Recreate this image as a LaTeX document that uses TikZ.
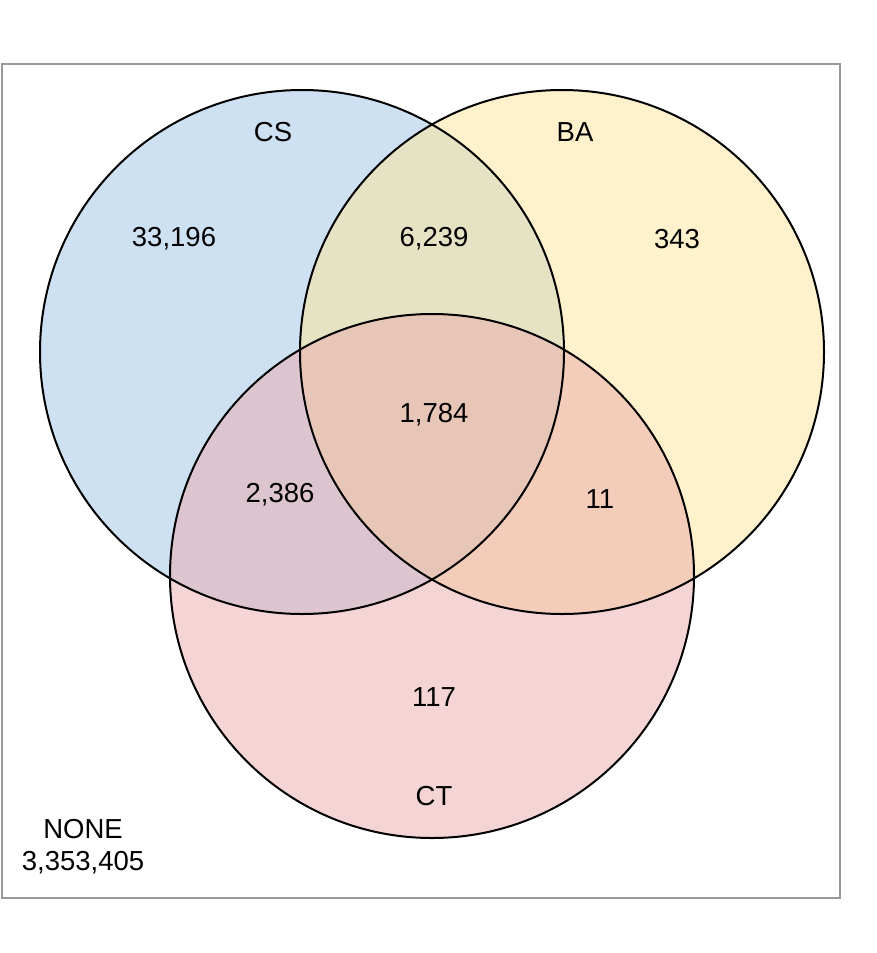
\documentclass[tikz,border=0pt]{standalone}
\usepackage{fontspec}
\setmainfont{Liberation Sans}
\definecolor{csblue}{HTML}{9FC5E8}
\definecolor{bayel}{HTML}{FFE599}
\definecolor{ctpink}{HTML}{EBAAAA}
\definecolor{framegray}{HTML}{999999}
\begin{document}
\begin{tikzpicture}[x=1pt,y=-1pt,
  lbl/.style={font=\fontsize{27.5}{32}\selectfont, inner sep=0pt, align=center},
  setc/.style={circle, minimum size=524pt, inner sep=0pt, fill opacity=0.5}]
\useasboundingbox (0,0) rectangle (877,953);
\draw[framegray, line width=1.8pt, fill=white] (2,64) rectangle (840,898);
\node[setc, fill=csblue] (cs) at (302,352) {};
\node[setc, fill=bayel] (ba) at (562,352) {};
\node[setc, fill=ctpink] (ct) at (432,576) {};
\draw[line width=2pt] (302,352) circle (262);
\draw[line width=2pt] (562,352) circle (262);
\draw[line width=2pt] (432,576) circle (262);
\node[lbl] (lcs) at (273,132) {CS};
\node[lbl] (lba) at (575,132) {BA};
\node[lbl] (lct) at (434,796) {CT};
\node[lbl] (n1) at (174,239) {33,196};
\node[lbl] (n2) at (434,239) {6,239};
\node[lbl] (n3) at (677,239) {343};
\node[lbl] (n4) at (434,415) {1,784};
\node[lbl] (n5) at (280,495) {2,386};
\node[lbl] (n6) at (600,499) {11};
\node[lbl] (n7) at (434,697) {117};
\node[lbl] (none) at (83,847) {NONE\\3,353,405};
\end{tikzpicture}
\end{document}
